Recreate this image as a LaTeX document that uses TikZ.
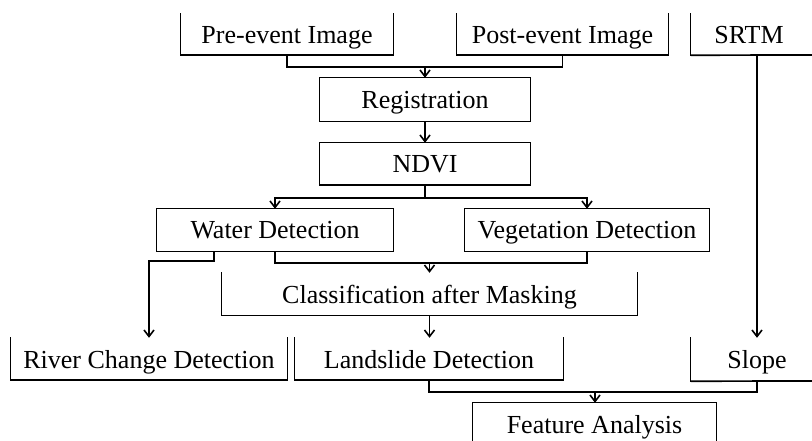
\documentclass[tikz,border=0pt]{standalone}
\usepackage{fontspec}
\setmainfont{Liberation Serif}
\usetikzlibrary{arrows.meta,calc}
\begin{document}
\begin{tikzpicture}[x=1pt,y=-1pt,
  lbl/.style={inner sep=0pt, font=\fontsize{26}{30}\selectfont, text height=18pt, text depth=0pt},
  side/.style={line width=0.8pt, line cap=rect},
  base/.style={line width=1.7pt},
  conn/.style={line width=1.7pt},
  arr/.style={line width=1.7pt, -{Straight Barb[length=6.5pt,width=10pt,line width=1.6pt]}}]
\useasboundingbox (0,0) rectangle (812,441);

% nodes
\node[lbl, minimum width=212pt, minimum height=41pt] (pre)   at (287,34.5)  {Pre-event Image};
\node[lbl, minimum width=211pt, minimum height=41pt] (post)  at (562.5,34.5){Post-event Image};
\node[lbl, minimum width=116pt, minimum height=41pt] (srtm)  at (749,34.5)  {SRTM};
\node[lbl, minimum width=210pt, minimum height=43pt] (reg)   at (425,99.5)  {Registration};
\node[lbl, minimum width=210pt, minimum height=42pt] (ndvi)  at (425,164)   {NDVI};
\node[lbl, minimum width=236pt, minimum height=42pt] (water) at (275,230)   {Water Detection};
\node[lbl, minimum width=244pt, minimum height=42pt] (veg)   at (587,230)   {Vegetation Detection};
\node[lbl, minimum width=415pt, minimum height=42pt] (class) at (429.5,294) {Classification after Masking};
\node[lbl, minimum width=276pt, minimum height=42pt] (river) at (149,359)   {River Change Detection};
\node[lbl, minimum width=268pt, minimum height=42pt] (land)  at (429,359)   {Landslide Detection};
\node[lbl, minimum width=132pt, minimum height=43pt] (slope) at (757,359.5) {Slope};
\node[lbl, minimum width=243pt, minimum height=42pt] (feat)  at (594.5,424) {Feature Analysis};

% box outlines (as printed: some edges missing)
\draw[side] (pre.south west) -- (pre.north west) (pre.south east) -- (pre.north east);
\draw[base] (pre.south west) -- (pre.south east);
\draw[side] (post.south west) -- (post.north west) (post.south east) -- (post.north east);
\draw[base] (post.south west) -- (post.south east);
\draw[side] (srtm.south west) -- (srtm.north west);
\draw[base] (srtm.south west) -- (812,55);
\draw[side] (reg.south west) rectangle (reg.north east);
\draw[side] (ndvi.south west) rectangle (ndvi.north east);
\draw[base] (ndvi.south west) -- (ndvi.south east);
\draw[side] (water.south west) rectangle (water.north east);
\draw[side] (veg.south west) rectangle (veg.north east);
\draw[side] (class.south west) -- (class.north west) (class.south east) -- (class.north east);
\draw[side] (class.south west) -- (class.south east);
\draw[side] (river.south west) -- (river.north west) (river.south east) -- (river.north east);
\draw[base] (river.south west) -- (river.south east);
\draw[side] (land.south west) -- (land.north west) (land.south east) -- (land.north east);
\draw[base] (land.south west) -- (land.south east);
\draw[side] (slope.south west) -- (slope.north west);
\draw[base] (slope.south west) -- (812,381);
\draw[side] (feat.south west) -- (feat.north west) -- (feat.north east) -- (feat.south east);

% connectors
\coordinate (j1) at (425,67);
\draw[conn] (pre.south) |- (j1) -| (post.south);
\draw[arr] (j1) -- (reg.north);
\draw[arr] (reg.south) -- (ndvi.north);
\coordinate (j2) at (425,198);
\draw[conn] (ndvi.south) -- (j2);
\draw[arr] (j2) -| (water.north);
\draw[arr] (j2) -| (veg.north);
\coordinate (w1) at ($(water.south west)!0.2415!(water.south east)$);
\draw[arr] (w1) -- ++(0,10) -| (river.north);
\coordinate (j4) at (429.5,263);
\draw[conn] (water.south) |- (j4) -| (veg.south);
\draw[arr] (j4) -- (class.north);
\draw[arr] (class.south) -- (class.south |- land.north);
\coordinate (j5) at (595,392);
\draw[conn] (land.south) |- (j5) -| (slope.south);
\draw[arr] (j5) -- (j5 |- feat.north);
\draw[arr] (srtm.south -| slope.north) -- (slope.north);
\end{tikzpicture}
\end{document}
